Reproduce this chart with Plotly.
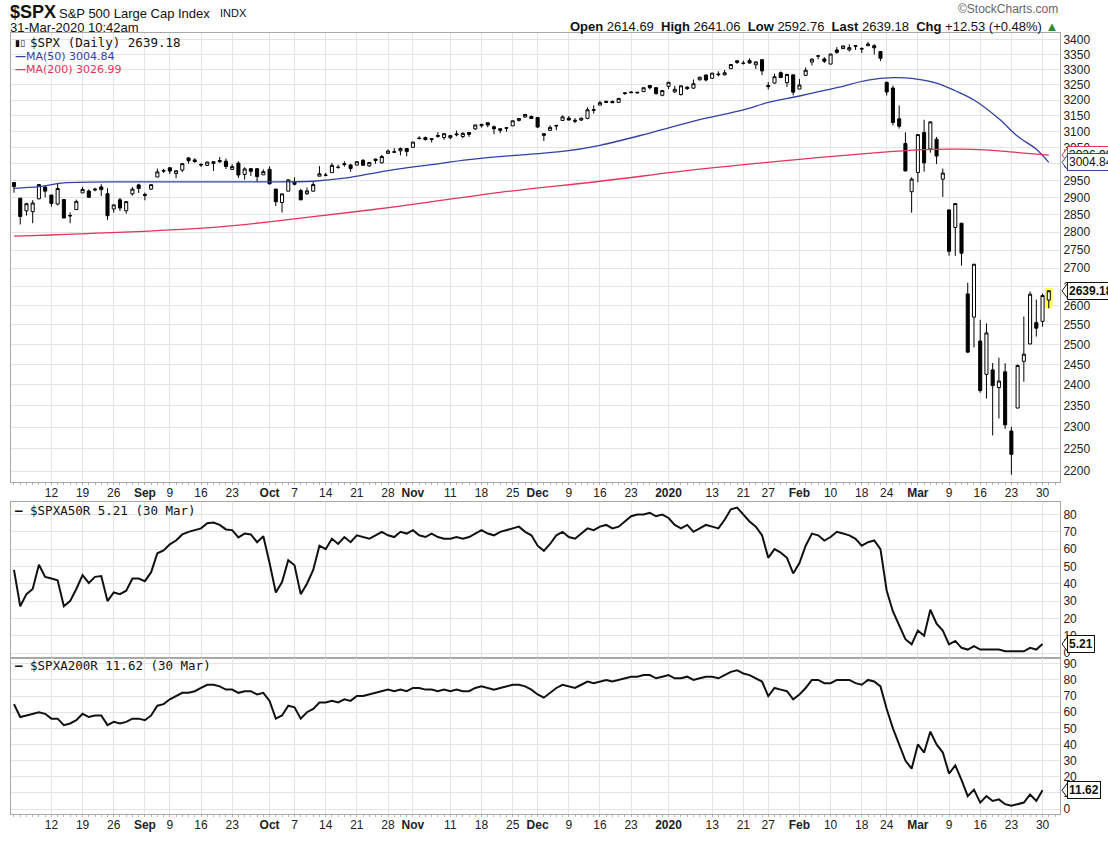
import math
import pandas as pd
import plotly.graph_objects as go

# ---------------- data ----------------
holidays = ["2019-09-02", "2019-11-28", "2019-12-25", "2020-01-01", "2020-01-20", "2020-02-17"]
dates = [d.strftime("%Y-%m-%d") for d in
         pd.bdate_range("2019-08-02", "2020-03-31", freq="C", holidays=holidays)]

opens = [
    2943.90, 2898.07, 2861.18, 2858.65, 2896.21, 2930.51, 2907.07, 2880.72, 2894.15, 2846.20, 2864.74, 2913.48, 2919.01, 2922.04, 2930.94, 2911.07, 2866.70, 2893.14, 2861.28, 2910.37, 2937.09,
    2909.01, 2924.67, 2960.60, 2980.33, 2988.43, 2971.01, 2981.41, 3018.21, 3012.21, 2996.41, 2995.67, 3001.50, 3010.36, 3008.42, 2983.50, 3002.43, 2968.35, 2985.73, 2985.47, 2967.07,
    2983.69, 2924.78, 2885.38, 2918.56, 2944.23, 2920.40, 2911.10, 2918.55, 2963.07, 2965.81, 2973.61, 2989.68, 3000.77, 2996.84, 2996.48, 3010.73, 2994.01, 3014.78, 3003.32, 3032.12, 3035.39, 3039.74, 3046.90,
    3050.72, 3078.96, 3080.80, 3075.10, 3087.02, 3081.25, 3080.33, 3089.28, 3084.18, 3090.75, 3107.92, 3117.91, 3127.45, 3114.66, 3108.49, 3111.41, 3117.44, 3134.85, 3145.49, 3147.18,
    3143.85, 3087.41, 3103.50, 3119.21, 3134.62, 3141.86, 3135.36, 3135.75, 3141.23, 3166.65, 3183.63, 3195.40, 3195.21, 3192.32, 3223.33, 3226.05, 3225.45, 3227.20, 3247.23, 3240.09, 3215.18,
    3244.67, 3226.36, 3217.55, 3241.86, 3238.59, 3266.03, 3281.81, 3271.13, 3285.35, 3282.27, 3302.97, 3323.66, 3321.03, 3330.02, 3315.77, 3333.10, 3247.16, 3255.35, 3289.46, 3256.45, 3282.33,
    3235.66, 3280.61, 3324.91, 3344.92, 3335.54, 3318.28, 3365.87, 3370.50, 3365.90, 3378.08, 3369.04, 3380.39, 3380.45, 3360.50, 3257.61, 3238.94, 3139.90, 3062.54, 2916.90,
    2974.28, 3096.46, 3045.75, 3075.70, 2954.20, 2863.89, 2813.48, 2825.60, 2630.86, 2569.99, 2508.59, 2425.66, 2436.50, 2393.48, 2431.94, 2290.71, 2344.44, 2457.77, 2501.29, 2555.87, 2558.98, 2614.69,
]
highs = [
    2945.50, 2898.07, 2884.40, 2892.17, 2938.72, 2935.75, 2907.58, 2943.31, 2894.15, 2856.67, 2893.63, 2931.00, 2923.63, 2928.73, 2939.08, 2927.01, 2879.27, 2898.79, 2890.03, 2930.50, 2940.43,
    2914.39, 2938.84, 2985.86, 2985.03, 2989.43, 2979.39, 3000.93, 3020.74, 3017.33, 3002.19, 3006.21, 3007.83, 3021.19, 3016.37, 2999.15, 3007.98, 2989.82, 2987.28, 2987.31, 2983.85,
    2992.53, 2924.78, 2911.13, 2953.74, 2959.75, 2925.47, 2929.32, 2948.46, 2993.28, 2972.84, 3003.28, 2997.54, 3008.29, 3000.00, 3007.33, 3014.57, 3004.78, 3016.07, 3027.39, 3044.08, 3047.87, 3050.10, 3046.90,
    3066.95, 3085.20, 3083.95, 3078.34, 3097.77, 3093.09, 3088.33, 3102.61, 3098.06, 3098.20, 3120.46, 3124.17, 3127.64, 3118.97, 3110.11, 3112.87, 3133.83, 3142.69, 3154.26, 3150.30,
    3144.31, 3094.97, 3119.38, 3119.45, 3150.60, 3148.87, 3142.12, 3143.98, 3176.28, 3182.68, 3197.71, 3198.22, 3198.48, 3205.48, 3225.65, 3227.78, 3226.43, 3240.08, 3247.93, 3240.92, 3231.72,
    3258.14, 3246.15, 3246.84, 3244.91, 3267.07, 3275.58, 3282.99, 3288.13, 3294.25, 3298.66, 3317.11, 3329.88, 3329.79, 3337.77, 3326.88, 3333.18, 3258.85, 3285.78, 3293.47, 3285.91, 3282.33,
    3268.44, 3306.92, 3337.58, 3347.96, 3341.42, 3352.26, 3375.63, 3381.47, 3385.09, 3380.69, 3375.01, 3393.52, 3385.15, 3360.76, 3259.81, 3246.99, 3182.51, 3097.07, 2959.72,
    3090.96, 3136.72, 3130.97, 3083.04, 2985.93, 2863.89, 2882.59, 2825.60, 2660.95, 2711.33, 2562.98, 2553.93, 2453.57, 2466.97, 2453.01, 2300.73, 2449.71, 2571.42, 2637.01, 2615.91, 2631.80, 2641.06,
]
lows = [
    2914.11, 2822.12, 2847.42, 2825.71, 2894.47, 2900.15, 2873.14, 2877.05, 2839.64, 2825.51, 2864.74, 2913.48, 2899.60, 2917.91, 2904.51, 2834.97, 2856.00, 2860.59, 2853.05, 2905.67, 2913.32,
    2891.85, 2921.86, 2960.60, 2972.51, 2969.39, 2957.01, 2975.31, 3000.92, 3002.90, 2990.67, 2993.73, 2978.57, 3003.16, 2984.68, 2982.23, 2957.73, 2952.86, 2963.71, 2945.53, 2967.07,
    2938.70, 2874.93, 2855.94, 2918.56, 2935.68, 2892.66, 2907.41, 2917.12, 2963.07, 2962.94, 2973.61, 2985.20, 2991.79, 2976.31, 2995.35, 2995.04, 2991.21, 3000.42, 3001.94, 3032.12, 3034.81, 3025.96, 3023.19,
    3050.72, 3074.87, 3072.15, 3065.89, 3080.23, 3073.58, 3075.82, 3084.73, 3078.80, 3083.26, 3104.60, 3112.06, 3113.47, 3091.41, 3094.55, 3099.26, 3117.44, 3131.00, 3143.41, 3139.34,
    3110.78, 3070.33, 3102.53, 3103.76, 3134.62, 3135.46, 3126.09, 3133.21, 3138.47, 3156.51, 3183.63, 3191.03, 3191.14, 3192.32, 3216.03, 3222.30, 3220.51, 3227.20, 3234.37, 3216.57, 3212.03,
    3235.53, 3222.34, 3214.64, 3232.43, 3236.67, 3263.67, 3260.86, 3268.43, 3277.19, 3280.69, 3302.82, 3318.86, 3316.61, 3320.04, 3301.87, 3281.53, 3234.50, 3253.22, 3271.89, 3242.80, 3214.68,
    3235.66, 3280.61, 3313.75, 3334.39, 3322.12, 3317.77, 3352.72, 3369.72, 3360.52, 3366.15, 3355.61, 3378.83, 3350.51, 3328.45, 3214.65, 3118.77, 3108.99, 2977.39, 2855.84,
    2945.19, 2976.63, 3034.38, 2999.83, 2901.54, 2734.43, 2734.00, 2707.22, 2478.86, 2492.37, 2380.94, 2367.04, 2280.52, 2319.78, 2295.56, 2191.86, 2344.44, 2407.53, 2500.72, 2520.02, 2545.28, 2592.76,
]
closes = [
    2932.05, 2844.74, 2881.77, 2883.98, 2938.09, 2918.65, 2882.70, 2926.32, 2840.60, 2847.60, 2888.68, 2923.65, 2900.51, 2924.43, 2922.95, 2847.11, 2878.38, 2869.16, 2887.94, 2924.58, 2926.46,
    2906.27, 2937.78, 2976.00, 2978.71, 2978.43, 2979.39, 3000.93, 3009.57, 3007.39, 2997.96, 3005.70, 3006.73, 3006.79, 2992.07, 2991.78, 2966.60, 2984.87, 2977.62, 2961.79, 2976.74,
    2940.25, 2887.61, 2910.63, 2952.01, 2938.79, 2893.06, 2919.40, 2938.13, 2970.27, 2966.15, 2995.68, 2989.69, 2997.95, 2986.20, 3006.72, 2995.99, 3004.52, 3010.29, 3022.55, 3039.42, 3036.89, 3046.77, 3037.56,
    3066.91, 3078.27, 3074.62, 3076.78, 3085.18, 3093.08, 3087.01, 3091.84, 3094.04, 3096.63, 3120.46, 3122.03, 3120.18, 3108.46, 3103.54, 3110.29, 3133.64, 3140.52, 3153.63, 3140.98,
    3113.87, 3093.20, 3112.76, 3117.43, 3145.91, 3135.96, 3132.52, 3141.63, 3168.57, 3168.80, 3191.45, 3192.52, 3191.14, 3205.37, 3221.22, 3224.01, 3223.38, 3239.91, 3240.02, 3221.29, 3230.78,
    3257.85, 3234.85, 3246.28, 3237.18, 3253.05, 3274.70, 3265.35, 3288.13, 3283.15, 3289.29, 3316.81, 3329.62, 3320.79, 3321.75, 3325.54, 3295.47, 3243.63, 3276.24, 3273.40, 3283.66, 3225.52,
    3248.92, 3297.59, 3334.69, 3345.78, 3327.71, 3352.09, 3357.75, 3379.45, 3373.94, 3380.16, 3370.29, 3386.15, 3373.23, 3337.75, 3225.89, 3128.21, 3116.39, 2978.76, 2954.22,
    3090.23, 3003.37, 3130.12, 3023.94, 2972.37, 2746.56, 2882.23, 2741.38, 2480.64, 2711.02, 2386.13, 2529.19, 2398.10, 2409.39, 2304.92, 2237.40, 2447.33, 2475.56, 2630.07, 2541.47, 2626.65, 2639.18,
]

ma50_dates = ["2019-08-02", "2019-08-08", "2019-08-14", "2019-08-30", "2019-09-16", "2019-09-30", "2019-10-10",
              "2019-10-17", "2019-10-28", "2019-11-06", "2019-11-14", "2019-11-26", "2019-12-06", "2019-12-16",
              "2019-12-27", "2020-01-09", "2020-01-21", "2020-01-27", "2020-02-03", "2020-02-11", "2020-02-19",
              "2020-02-25", "2020-02-28", "2020-03-05", "2020-03-10", "2020-03-13", "2020-03-19", "2020-03-24",
              "2020-03-27", "2020-03-31"]
ma50_vals = [2927, 2932, 2943, 2946, 2946, 2946, 2948, 2957, 2980, 2998, 3013, 3027, 3038, 3057, 3095, 3137,
             3168, 3192, 3213, 3240, 3265, 3273, 3271, 3255, 3230, 3200, 3140, 3085, 3045, 3004.84]

ma200_dates = ["2019-08-02", "2019-09-18", "2019-10-08", "2019-10-30", "2019-11-21", "2019-12-16", "2020-01-09",
               "2020-02-03", "2020-02-21", "2020-03-02", "2020-03-11", "2020-03-19", "2020-03-25", "2020-03-31"]
ma200_vals = [2789, 2814, 2840, 2875, 2915, 2948, 2984, 3014, 3035, 3043, 3045, 3040, 3033, 3026.99]

# % of S&P 500 stocks above 50-day MA (Aug 2 .. Mar 30)
spxa50r = [
    48, 27, 34, 37, 51, 44, 43, 42, 27, 30, 37, 45, 40.5, 44, 44.5, 30, 35, 34, 36, 43,
    43, 41.5, 46.7, 57.6, 59.3, 62.8, 65, 68.5, 70, 70.8, 72, 75, 75.4, 74, 71.4, 71, 66.8, 69, 68.5, 64,
    67.4, 52, 35, 41, 53.6, 50.7, 34,
    40, 48, 62, 60, 66, 63, 67, 64, 68, 67,
    66, 68, 70, 68, 67, 70, 69, 71, 68, 67,
    69, 67, 66, 66, 67, 66, 67, 69, 71, 69,
    68, 70, 71, 72, 73, 70, 68, 62, 59, 63,
    68, 70, 67, 66, 69, 72, 71, 73, 74, 72,
    73, 76, 79, 80, 80, 81, 79, 80, 78, 74,
    72, 74, 70, 72, 74, 73, 72, 77, 83, 84,
    80, 76, 73, 68, 55, 60, 58, 55, 46, 52,
    62, 69, 68, 65, 67, 70, 69, 68, 66, 62,
    64, 65, 60, 36, 24, 16, 8, 5, 13, 10,
    25, 17, 13, 5, 7, 3, 2, 4, 2, 2,
    2, 2, 1, 1, 1, 1, 3, 2, 5.21,
]
# % of S&P 500 stocks above 200-day MA (Aug 2 .. Mar 30)
spxa200r = [
    65, 57, 58, 59, 60, 59, 56, 56, 52, 53,
    55, 59, 57, 58, 58, 52, 54, 53, 54, 56,
    56, 55, 58, 64, 65, 68, 70, 72, 72, 73,
    75, 77, 77, 76, 74, 74, 72, 73, 73, 71,
    72, 67, 56, 58, 64, 63, 56, 60, 62, 66,
    66, 67, 66, 68, 67, 70, 70, 71, 72, 73,
    74, 73, 74, 73, 75, 75, 74, 74, 73, 74,
    73, 74, 73, 73, 75, 76, 75, 74, 75, 76,
    77, 77, 76, 74, 71, 69, 72, 75, 77, 76,
    75, 77, 79, 78, 79, 80, 79, 80, 81, 82,
    82, 83, 83, 81, 82, 83, 81, 81, 82, 80,
    81, 82, 82, 81, 83, 85, 86, 84, 83, 81,
    79, 70, 75, 74, 73, 68, 71, 75, 80, 80,
    78, 78, 80, 80, 80, 78, 77, 80, 79, 76,
    62, 50, 40, 30, 25, 40, 35, 48, 40, 35,
    22, 27, 18, 8, 12, 4, 8, 5, 6, 3,
    2, 3, 4, 9, 5, 11.62,
]

tick_dates = ["2019-08-12", "2019-08-19", "2019-08-26", "2019-09-03", "2019-09-09", "2019-09-16", "2019-09-23",
              "2019-10-01", "2019-10-07", "2019-10-14", "2019-10-21", "2019-10-28", "2019-11-01", "2019-11-11",
              "2019-11-18", "2019-11-25", "2019-12-02", "2019-12-09", "2019-12-16", "2019-12-23", "2020-01-02",
              "2020-01-13", "2020-01-21", "2020-01-27", "2020-02-03", "2020-02-10", "2020-02-18", "2020-02-24",
              "2020-03-02", "2020-03-09", "2020-03-16", "2020-03-23", "2020-03-30"]
tick_text = ["12", "19", "26", "<b>Sep</b>", "9", "16", "23", "<b>Oct</b>", "7", "14", "21", "28", "<b>Nov</b>",
             "11", "18", "25", "<b>Dec</b>", "9", "16", "23", "<b>2020</b>", "13", "21", "27", "<b>Feb</b>", "10",
             "18", "24", "<b>Mar</b>", "9", "16", "23", "30"]
price_ticks = list(range(2200, 3401, 50))
pct50_ticks = list(range(0, 81, 10))
pct200_ticks = list(range(0, 91, 10))

# ---------------- figure ----------------
pos = {d: i for i, d in enumerate(dates)}
xi = list(range(len(dates)))
W, H = 1108, 842
ML, MR, MT, MB = 10, 48, 33, 24
PW, PH = W - ML - MR, H - MT - MB


def px(x):
    return (x - ML) / PW


def py(y):
    return (H - MB - y) / PH


GRID = "#e4e4e4"
BORDER = "#a8a8a8"
AXF = dict(family="Liberation Sans, Arial, sans-serif", size=12, color="#222")
MONO = "DejaVu Sans Mono, monospace"
SANS = "Liberation Sans, Arial, sans-serif"
BLUE = "#3340a8"
RED = "#e3345a"

fig = go.Figure()
fig.add_trace(go.Candlestick(
    x=xi, open=opens, high=highs, low=lows, close=closes,
    increasing=dict(line=dict(color="black", width=1), fillcolor="white"),
    decreasing=dict(line=dict(color="black", width=1), fillcolor="black"),
    whiskerwidth=0, showlegend=False, hoverinfo="skip", xaxis="x", yaxis="y"))
fig.add_trace(go.Scatter(x=[pos[d] for d in ma50_dates], y=ma50_vals, mode="lines",
                         line=dict(color=BLUE, width=1.3, shape="spline"), showlegend=False,
                         xaxis="x", yaxis="y"))
fig.add_trace(go.Scatter(x=[pos[d] for d in ma200_dates], y=ma200_vals, mode="lines",
                         line=dict(color=RED, width=1.3, shape="spline"), showlegend=False,
                         xaxis="x", yaxis="y"))
fig.add_trace(go.Scatter(x=xi[:len(spxa50r)], y=spxa50r, mode="lines",
                         line=dict(color="#111", width=2), showlegend=False, xaxis="x2", yaxis="y2"))
fig.add_trace(go.Scatter(x=xi[:len(spxa200r)], y=spxa200r, mode="lines",
                         line=dict(color="#111", width=2), showlegend=False, xaxis="x3", yaxis="y3"))

XR = [-0.48, 167.8]


def xaxis(anchor, show):
    d = dict(anchor=anchor, domain=[0, 1], range=XR, tickmode="array",
             tickvals=[pos[t] for t in tick_dates], ticktext=tick_text, showticklabels=show,
             showgrid=True, gridcolor=GRID, zeroline=False, showline=True, linecolor=BORDER,
             mirror=True, ticks="", tickfont=AXF, rangeslider=dict(visible=False), fixedrange=True)
    if show:
        d["minor"] = dict(ticks="outside", ticklen=2, tickcolor="#b5b5b5", tick0=0, dtick=1, showgrid=False)
    return d


def yaxis(anchor, domain, rng, ticks, typ="linear"):
    return dict(anchor=anchor, domain=domain, type=typ, range=rng, side="right", tickmode="array",
                tickvals=ticks, ticktext=[str(t) for t in ticks], showgrid=True, gridcolor=GRID,
                zeroline=False, showline=True, linecolor=BORDER, mirror=True, ticks="",
                tickfont=AXF, fixedrange=True)


fig.update_layout(
    width=W, height=H, margin=dict(l=ML, r=MR, t=MT, b=MB),
    paper_bgcolor="white", plot_bgcolor="white", showlegend=False,
    xaxis=xaxis("y", True), xaxis2=xaxis("y2", False), xaxis3=xaxis("y3", True),
    yaxis=yaxis("x", [py(484), 1], [3.33774, 3.53454], price_ticks, "log"),
    yaxis2=yaxis("x2", [py(661), py(504)], [-2.76, 87.47], pct50_ticks),
    yaxis3=yaxis("x3", [0, py(661)], [-3.08, 93.7], pct200_ticks),
)

# highlight of the latest candle
fig.add_shape(type="rect", xref="x", yref="y", x0=xi[-1] - 0.62, x1=xi[-1] + 0.62,
              y0=lows[-1], y1=highs[-1] * 1.002, fillcolor="#ffff55", line=dict(width=0), layer="between")

ann = []


def text(x, y, s, size=12, color="#111", family=SANS, anchor="left"):
    ann.append(dict(xref="paper", yref="paper", x=px(x), y=py(y), text=s, showarrow=False,
                    xanchor=anchor, yanchor="middle", font=dict(size=size, color=color, family=family)))


last = closes[-1]
chg = closes[-1] - closes[-2]
pct = chg / closes[-2] * 100
nb = "\u00a0"
text(7, 12, "<b>$SPX</b>", 18)
text(56, 13, "S&P 500 Large Cap Index", 13)
text(217, 13, "INDX", 11)
text(7, 27, "31-Mar-2020 10:42am", 13)
text(1060, 9, "©StockCharts.com", 12, "#666", anchor="right")
text(1060, 26,
     f"<b>Open</b> {opens[-1]:.2f}{nb}{nb}<b>High</b> {highs[-1]:.2f}{nb}{nb}<b>Low</b> {lows[-1]:.2f}{nb}{nb}"
     f"<b>Last</b> {last:.2f}{nb}{nb}<b>Chg</b> {chg:+.2f} ({pct:+.2f}%) <span style='color:#2e8b2e'>▲</span>",
     13, anchor="right")

text(12, 43, "▮▯", 9, "#111", "DejaVu Sans")
text(27, 43, f"$SPX (Daily) {last:.2f}", 12.5, "#111", MONO)
text(12, 57, f"<b>—</b>MA(50) {ma50_vals[-1]:.2f}", 11, BLUE, "DejaVu Sans")
text(12, 70, f"<b>—</b>MA(200) {ma200_vals[-1]:.2f}", 11, RED, "DejaVu Sans")
text(12, 513, f"<b>—</b> $SPXA50R {spxa50r[-1]:.2f} (30 Mar)", 12.5, "#111", MONO)
text(12, 669, f"<b>—</b> $SPXA200R {spxa200r[-1]:.2f} (30 Mar)", 12.5, "#111", MONO)


def valbox(yref, yval, shape_y, label, border, bold=False):
    # chevron on the left side of the value box
    fig.add_shape(type="path", xref="paper", xsizemode="pixel", xanchor=1, yref=yref,
                  ysizemode="pixel", yanchor=shape_y, path="M 8,-8 L 2,0 L 8,8 Z",
                  fillcolor="white", line=dict(color=border, width=1), layer="above")
    ann.append(dict(xref="paper", yref=yref, x=1, y=yval, xanchor="left", yanchor="middle", xshift=7,
                    text=f"<b>{label}</b>" if bold else label, showarrow=False, bgcolor="white",
                    bordercolor=border, borderwidth=1, borderpad=1,
                    font=dict(size=12, color="#111", family=SANS)))


valbox("y", math.log10(ma200_vals[-1]), ma200_vals[-1], f"{ma200_vals[-1]:.2f}", RED)
valbox("y", math.log10(ma50_vals[-1]), ma50_vals[-1], f"{ma50_vals[-1]:.2f}", BLUE)
valbox("y", math.log10(last), last, f"{last:.2f}", "#111", True)
valbox("y2", spxa50r[-1], spxa50r[-1], f"{spxa50r[-1]:.2f}", "#111", True)
valbox("y3", spxa200r[-1], spxa200r[-1], f"{spxa200r[-1]:.2f}", "#111", True)
fig.update_layout(annotations=ann)

fig.write_html("out.html")
